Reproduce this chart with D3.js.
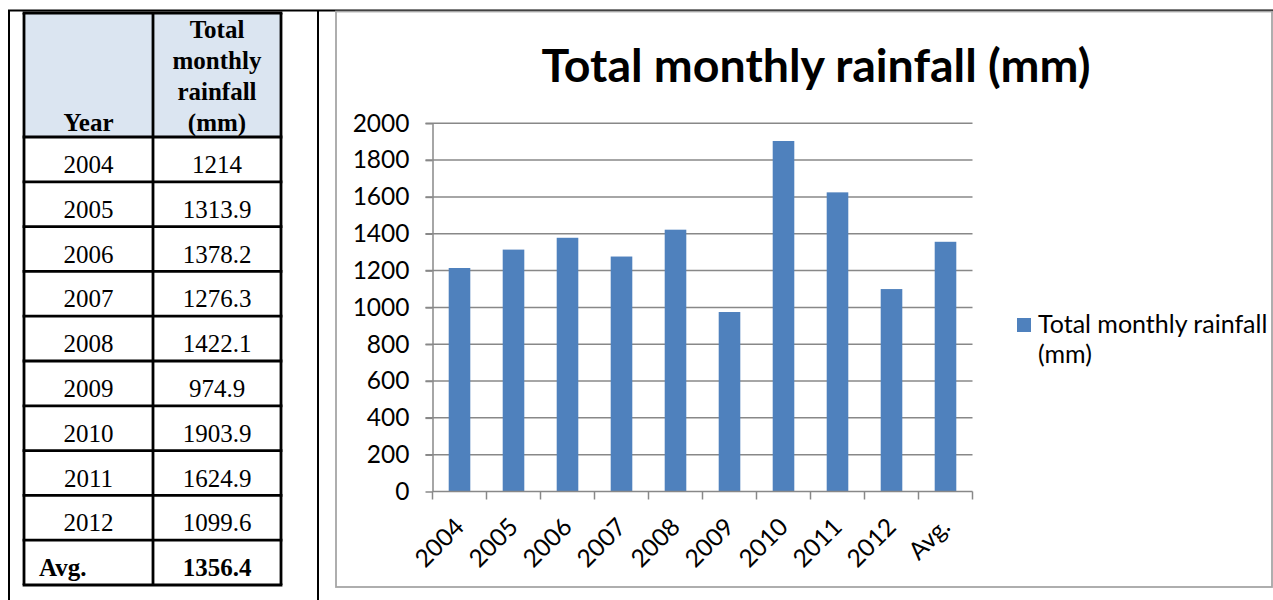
<!DOCTYPE html>
<html>
<head>
<meta charset="utf-8">
<script src="https://cdn.jsdelivr.net/npm/d3@7"></script>
<style>
  html, body { margin: 0; padding: 0; background: #ffffff; }
  svg { display: block; }
</style>
</head>
<body>
<svg id="page" width="1273" height="600"></svg>
<script>
// Yearly rainfall totals (mm)
const years = ["2004", "2005", "2006", "2007", "2008", "2009", "2010", "2011", "2012"];
const rainfall = [1214, 1313.9, 1378.2, 1276.3, 1422.1, 974.9, 1903.9, 1624.9, 1099.6];
const avgLabel = "Avg.";
const avgRainfall = 1356.4;
const seriesName = "Total monthly rainfall (mm)";
const headerLines = ["Total", "monthly", "rainfall", "(mm)"];
const yTicks = [0, 200, 400, 600, 800, 1000, 1200, 1400, 1600, 1800, 2000];

const categories = years.concat([avgLabel]);
const values = rainfall.concat([avgRainfall]);

const svg = d3.select("#page");
const serif = "'Liberation Serif', 'Times New Roman', serif";
const sans = "Lato, Carlito, 'Open Sans', sans-serif";
const labelSize = 24.5;

// ---------- page frame ----------
const frame = svg.append("g").attr("stroke", "#000");
frame.append("line").attr("x1", 8).attr("x2", 1273).attr("y1", 10.5).attr("y2", 10.5).attr("stroke-width", 1.8);
frame.append("line").attr("x1", 9).attr("x2", 9).attr("y1", 10).attr("y2", 600).attr("stroke-width", 2);
frame.append("line").attr("x1", 318).attr("x2", 318).attr("y1", 10).attr("y2", 600).attr("stroke-width", 2);

// ---------- data table ----------
const tbl = { left: 24, mid: 153, right: 281, top: 13, headBottom: 137, bottom: 585 };
const rows = years.map((y, i) => ({ year: y, value: String(rainfall[i]), bold: false }))
  .concat([{ year: avgLabel, value: String(avgRainfall), bold: true }]);

const rowY = d3.scaleBand()
  .domain(d3.range(rows.length))
  .range([tbl.headBottom, tbl.bottom]);

const table = svg.append("g").attr("font-family", serif).attr("font-size", 25).attr("fill", "#000");

table.append("rect")
  .attr("x", tbl.left).attr("y", tbl.top)
  .attr("width", tbl.right - tbl.left).attr("height", tbl.headBottom - tbl.top)
  .attr("fill", "#dbe5f1");

// header
const colYear = (tbl.left + tbl.mid) / 2;
const colVal = (tbl.mid + tbl.right) / 2;
table.append("text")
  .attr("x", colYear).attr("y", 131)
  .attr("text-anchor", "middle").attr("font-weight", "bold")
  .text("Year");
table.append("g").selectAll("text")
  .data(headerLines)
  .join("text")
  .attr("x", colVal)
  .attr("y", (d, i) => 38 + i * 31)
  .attr("text-anchor", "middle").attr("font-weight", "bold")
  .text(d => d);

// body rows
const rowG = table.append("g").selectAll("g")
  .data(rows)
  .join("g")
  .attr("transform", (d, i) => `translate(0,${rowY(i)})`);
rowG.append("text")
  .attr("x", d => d.bold ? 39 : colYear)
  .attr("y", 36)
  .attr("text-anchor", d => d.bold ? "start" : "middle")
  .attr("font-weight", d => d.bold ? "bold" : "normal")
  .text(d => d.year);
rowG.append("text")
  .attr("x", colVal)
  .attr("y", 36)
  .attr("text-anchor", "middle")
  .attr("font-weight", d => d.bold ? "bold" : "normal")
  .text(d => d.value);

// table rules
const rules = table.append("g").attr("stroke", "#000").attr("stroke-width", 2.8);
const hLines = [tbl.top, tbl.headBottom].concat(d3.range(1, rows.length).map(i => rowY(i)), [tbl.bottom]);
rules.selectAll("line.h")
  .data(hLines)
  .join("line")
  .attr("class", "h")
  .attr("x1", tbl.left - 1.4).attr("x2", tbl.right + 1.4)
  .attr("y1", d => d).attr("y2", d => d);
rules.selectAll("line.v")
  .data([tbl.left, tbl.mid, tbl.right])
  .join("line")
  .attr("class", "v")
  .attr("x1", d => d).attr("x2", d => d)
  .attr("y1", tbl.top).attr("y2", tbl.bottom);

// ---------- chart ----------
svg.append("rect")
  .attr("x", 336).attr("y", 11.5)
  .attr("width", 936).attr("height", 575.5)
  .attr("fill", "none").attr("stroke", "#a6a6a6").attr("stroke-width", 1.8);

const plot = { left: 432.5, right: 972.5, top: 123.3, bottom: 491.5 };
const gridColor = "#888888";

const x = d3.scaleBand()
  .domain(categories)
  .range([plot.left, plot.right])
  .paddingInner(0.6)
  .paddingOuter(0.3);

const y = d3.scaleLinear()
  .domain([0, 2000])
  .range([plot.bottom, plot.top]);

const chart = svg.append("g").attr("font-family", sans);

// gridlines
chart.append("g").selectAll("line")
  .data(yTicks.filter(t => t > 0))
  .join("line")
  .attr("x1", plot.left - 7).attr("x2", plot.right)
  .attr("y1", d => y(d)).attr("y2", d => y(d))
  .attr("stroke", gridColor).attr("stroke-width", 1.5);

// y axis
const yAxis = chart.append("g")
  .attr("transform", `translate(${plot.left},0)`)
  .call(d3.axisLeft(y).tickValues(yTicks).tickFormat(d3.format("d"))
    .tickSize(7).tickPadding(16).tickSizeOuter(0));
yAxis.select(".domain").attr("stroke", gridColor).attr("stroke-width", 1.5);
yAxis.selectAll(".tick line").attr("stroke", gridColor).attr("stroke-width", 1.5);
yAxis.selectAll("text")
  .attr("font-family", sans).attr("font-size", labelSize).attr("fill", "#000");

// bars
chart.append("g").selectAll("rect")
  .data(values)
  .join("rect")
  .attr("x", (d, i) => x(categories[i]))
  .attr("y", d => y(d))
  .attr("width", x.bandwidth())
  .attr("height", d => y(0) - y(d))
  .attr("fill", "#4f81bd");

// x axis
const xAxis = chart.append("g")
  .attr("transform", `translate(0,${plot.bottom})`)
  .call(d3.axisBottom(x).tickSize(0).tickSizeOuter(0).tickPadding(0));
xAxis.select(".domain").remove();
xAxis.append("line")
  .attr("x1", plot.left).attr("x2", plot.right)
  .attr("stroke", gridColor).attr("stroke-width", 1.5);
// tick marks sit between categories
const step = x.step();
xAxis.selectAll("line.edge")
  .data(d3.range(categories.length + 1))
  .join("line")
  .attr("class", "edge")
  .attr("x1", i => plot.left + i * step).attr("x2", i => plot.left + i * step)
  .attr("y1", 0).attr("y2", 8)
  .attr("stroke", gridColor).attr("stroke-width", 1.5);
xAxis.selectAll(".tick text")
  .attr("font-family", sans).attr("font-size", labelSize).attr("fill", "#000")
  .attr("text-anchor", "end")
  .attr("dy", null)
  .attr("transform", "translate(6,37) rotate(-45)");

// title
chart.append("text")
  .attr("x", 816).attr("y", 82)
  .attr("text-anchor", "middle")
  .attr("font-size", 46.5).attr("font-weight", "bold").attr("fill", "#000")
  .text(seriesName);

// legend
const legend = chart.append("g").attr("transform", "translate(1017,318)");
legend.append("rect").attr("width", 14).attr("height", 14).attr("fill", "#4f81bd");
const nameWords = seriesName.split(" ");
legend.append("text")
  .attr("x", 21).attr("y", 15)
  .attr("font-size", 25).attr("fill", "#000")
  .selectAll("tspan")
  .data([nameWords.slice(0, 3).join(" "), nameWords.slice(3).join(" ")])
  .join("tspan")
  .attr("x", 21)
  .attr("dy", (d, i) => i === 0 ? 0 : 30)
  .text(d => d);
</script>
</body>
</html>
